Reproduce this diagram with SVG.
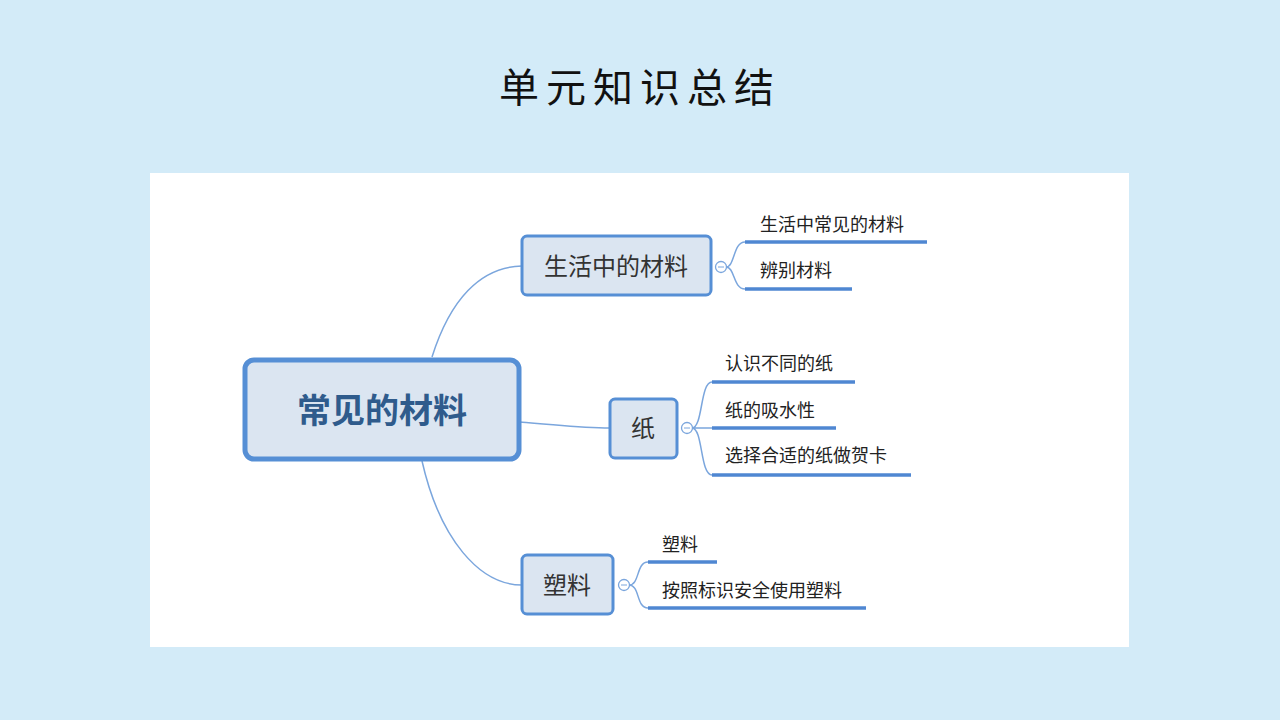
<svg xmlns="http://www.w3.org/2000/svg" width="1280" height="720" viewBox="0 0 1280 720">
<style>
.t{font-family:"Noto Sans CJK SC","Noto Sans",sans-serif}
.box{fill:#dbe5f1;stroke:#568fd5;stroke-width:3}
.c{fill:none;stroke:#7ba6dd;stroke-width:1.5}
.u{stroke:#4f87d2;stroke-width:3.5}
.leaf{font-size:18px;fill:#222}
.mid{font-size:24px;fill:#333}
.tog{fill:#fff;stroke:#7ba6dd;stroke-width:1.3}
</style>
<rect width="1280" height="720" fill="#d3ebf8"/>
<text class="t" x="640" y="102" text-anchor="middle" font-size="40" fill="#111" letter-spacing="7">单元知识总结</text>
<rect x="150" y="173" width="979" height="474" fill="#fff"/>
<g id="connectors">
<path class="c" d="M432 357 C450 300 480 267 522 266"/>
<path class="c" d="M519 422 C560 425 580 428 610 428"/>
<path class="c" d="M422 461 C440 540 480 585 522 585"/>
<path class="c" d="M726 267 C735 267 733 242 745 242 M726 267 C735 267 733 289 745 289"/>
<path class="c" d="M692 428 C703 428 700 382 712 382 M692 428 L712 428 M692 428 C703 428 700 475 712 475"/>
<path class="c" d="M629 585 C640 585 636 562 648 562 M629 585 C640 585 636 608 648 608"/>
<line class="u" x1="745" y1="242" x2="927" y2="242"/>
<line class="u" x1="745" y1="289" x2="852" y2="289"/>
<line class="u" x1="712" y1="382" x2="855" y2="382"/>
<line class="u" x1="712" y1="428" x2="836" y2="428"/>
<line class="u" x1="712" y1="475" x2="911" y2="475"/>
<line class="u" x1="648" y1="562" x2="717" y2="562"/>
<line class="u" x1="648" y1="608" x2="866" y2="608"/>
</g>
<g id="root">
<rect x="245" y="360" width="274" height="99" rx="9" fill="#dbe5f1" stroke="#568fd5" stroke-width="5"/>
<text class="t" x="382" y="423" text-anchor="middle" font-size="34" font-weight="bold" fill="#2f5b8c">常见的材料</text>
</g>
<g id="n1">
<rect class="box" x="522" y="236" width="189" height="59" rx="5"/>
<text class="t mid" x="616" y="275" text-anchor="middle">生活中的材料</text>
<circle class="tog" cx="721" cy="267" r="5.5"/><line x1="718" y1="267" x2="724" y2="267" stroke="#7ba6dd"/>
</g>
<g id="n2">
<rect class="box" x="610" y="399" width="67" height="59" rx="5"/>
<text class="t mid" x="643" y="437" text-anchor="middle">纸</text>
<circle class="tog" cx="687" cy="428" r="5.5"/><line x1="684" y1="428" x2="690" y2="428" stroke="#7ba6dd"/>
</g>
<g id="n3">
<rect class="box" x="522" y="555" width="91" height="59" rx="5"/>
<text class="t mid" x="567" y="594" text-anchor="middle">塑料</text>
<circle class="tog" cx="624" cy="585" r="5.5"/><line x1="621" y1="585" x2="627" y2="585" stroke="#7ba6dd"/>
</g>
<g id="leaves">
<text class="t leaf" x="760" y="231">生活中常见的材料</text>
<text class="t leaf" x="760" y="277">辨别材料</text>
<text class="t leaf" x="725" y="370">认识不同的纸</text>
<text class="t leaf" x="725" y="417">纸的吸水性</text>
<text class="t leaf" x="725" y="462">选择合适的纸做贺卡</text>
<text class="t leaf" x="662" y="551">塑料</text>
<text class="t leaf" x="662" y="597">按照标识安全使用塑料</text>
</g>
</svg>
